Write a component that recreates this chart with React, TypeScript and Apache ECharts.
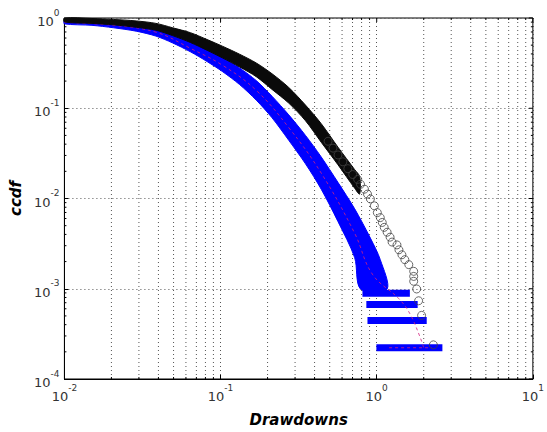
import React, { useEffect, useRef } from "react";
import * as echarts from "echarts";

// axis decades
const xMajor = [0.01, 0.1, 1, 10];
const yMajor = [0.0001, 0.001, 0.01, 0.1, 1];
const minorFactors = [2, 3, 4, 5, 6, 7, 8, 9];

// empirical ccdf (black circles): dense upper part is a solid band (outer / inner envelope)
const blackX = [0.01, 0.01501, 0.02065, 0.02884, 0.03855, 0.04932, 0.06406, 0.08196, 0.1034, 0.1323, 0.1693, 0.2136, 0.2733, 0.3498, 0.4411, 0.5646, 0.7225, 0.777];
const blackUpperY = [1.0, 0.9876, 0.9632, 0.9279, 0.8718, 0.7792, 0.6878, 0.5775, 0.4847, 0.3972, 0.3172, 0.241, 0.17, 0.1084, 0.06751, 0.03708, 0.02088, 0.01753];
const blackLowerY = [0.9051, 0.8718, 0.8396, 0.7889, 0.7319, 0.638, 0.5358, 0.4388, 0.3594, 0.2871, 0.2237, 0.1617, 0.114, 0.07275, 0.04201, 0.02366, 0.013, 0.01119];

// individual circles in the tail
const circleX = [0.488, 0.525, 0.565, 0.607, 0.653, 0.702, 0.755, 0.788, 0.835, 0.873, 0.911, 0.966, 1.009, 1.054, 1.085, 1.117, 1.166, 1.218, 1.254, 1.348, 1.388, 1.45, 1.514, 1.605, 1.725, 1.725, 1.725, 1.803, 1.855, 1.938, 2.306];
const circleY = [0.04306, 0.03615, 0.03037, 0.0255, 0.0214, 0.01843, 0.01627, 0.01436, 0.01268, 0.01119, 0.00988, 0.00829, 0.00697, 0.00614, 0.00543, 0.00479, 0.00423, 0.00373, 0.00329, 0.00306, 0.0027, 0.00238, 0.0021, 0.00185, 0.00156, 0.00137, 0.00121, 0.000994, 0.000736, 0.000507, 0.000239];

// surrogate band (blue x markers): outer and inner envelope
const bandUpperX = [0.01, 0.01501, 0.02065, 0.02884, 0.03855, 0.04932, 0.06406, 0.08196, 0.1034, 0.1323, 0.1693, 0.2136, 0.2733, 0.3498, 0.4411, 0.5646, 0.7225, 0.911, 1.054, 1.166];
const bandUpperY = [0.9279, 0.9095, 0.8827, 0.8232, 0.7449, 0.6542, 0.5425, 0.4498, 0.3684, 0.28, 0.2024, 0.1358, 0.08449, 0.05003, 0.02888, 0.0151, 0.00769, 0.00364, 0.0021, 0.000994];
const bandLowerX = [0.01, 0.01501, 0.02065, 0.02884, 0.03855, 0.04932, 0.06406, 0.08196, 0.1034, 0.1323, 0.1693, 0.2136, 0.2733, 0.3498, 0.4411, 0.5646, 0.7225, 0.788];
const bandLowerY = [0.861, 0.8293, 0.7792, 0.7141, 0.6301, 0.5292, 0.4227, 0.3293, 0.2533, 0.1832, 0.1229, 0.07838, 0.04416, 0.02425, 0.01268, 0.00556, 0.00221, 0.000994];

// blue plateaus at the last ccdf levels
const plateauY = [0.000889, 0.000667, 0.000444, 0.000222];
const plateauStart = [0.847, 0.897, 0.912, 1.04];
const plateauEnd = [1.56, 1.75, 2.0, 2.52];

// magenta dashed mean curve
const meanX = [0.01, 0.02065, 0.03855, 0.06406, 0.1034, 0.1693, 0.2733, 0.4411, 0.7225, 0.938, 1.388, 1.628, 1.883, 2.0];
const meanY = [0.8938, 0.8293, 0.6965, 0.4613, 0.298, 0.1577, 0.06107, 0.01913, 0.00412, 0.00145, 0.000774, 0.000532, 0.0003, 0.000222];
const meanFlatX = [1.2, 2.24];
const meanFlatY = [0.000222, 0.000222];

const FONT = "DejaVu Sans";

function expLabel(v: number) {
  const e = Math.round(Math.log10(v));
  return `{b|10}{s|${e}}`;
}

const richLabel = {
  b: { fontSize: 13, fontFamily: FONT, color: "#333", lineHeight: 20, verticalAlign: "bottom" },
  s: { fontSize: 9, fontFamily: FONT, color: "#333", lineHeight: 20, verticalAlign: "top", padding: [0, 0, 7, 0] },
};

export default function App() {
  const ref = useRef<HTMLDivElement>(null);
  useEffect(() => {
    if (!ref.current) return;
    const chart = echarts.init(ref.current, null, { renderer: "svg" });
    const xMin = xMajor[0];
    const xMax = xMajor[xMajor.length - 1];
    const yMin = yMajor[0];
    const yMax = yMajor[yMajor.length - 1];

    const minorX: number[] = [];
    xMajor.slice(0, -1).forEach((d) => minorFactors.forEach((f) => minorX.push(d * f)));
    const minorY: number[] = [];
    yMajor.slice(0, -1).forEach((d) => minorFactors.forEach((f) => minorY.push(d * f)));

    const gridDash = { stroke: "#555", lineDash: [1, 3], lineWidth: 1 };
    const dashed = { color: "#d4207f", width: 1, type: [3, 3], opacity: 0.8 };

    const bandSeries = (ux: number[], uy: number[], lx: number[], ly: number[], color: string, z: number) => ({
      type: "custom",
      silent: true,
      z,
      data: [[1, 1]],
      renderItem: (params: any, api: any) => {
        const pts: number[][] = [];
        ux.forEach((x, i) => pts.push(api.coord([x, uy[i]])));
        for (let i = lx.length - 1; i >= 0; i--) pts.push(api.coord([lx[i], ly[i]]));
        return {
          type: "polygon",
          shape: { points: pts, smooth: 0.3 },
          style: { fill: color, stroke: color, lineWidth: 1, lineJoin: "round" },
        };
      },
    });

    const option: any = {
      animation: false,
      backgroundColor: "#fff",
      grid: { left: 62, right: 9, top: 18, bottom: 45, show: true, borderColor: "#000", borderWidth: 1 },
      xAxis: {
        type: "log",
        logBase: 10,
        min: xMin,
        max: xMax,
        axisLine: { show: true, lineStyle: { color: "#000" } },
        axisTick: { show: true, inside: true, length: 4, lineStyle: { color: "#000" } },
        axisLabel: { formatter: expLabel, rich: richLabel, margin: 4 },
        splitLine: { show: true, lineStyle: { color: "#555", type: [1, 3], width: 1 } },
        name: "Drawdowns",
        nameLocation: "middle",
        nameGap: 33,
        nameTextStyle: { fontSize: 15, fontWeight: "bold", fontStyle: "italic", fontFamily: FONT, color: "#000" },
      },
      yAxis: {
        type: "log",
        logBase: 10,
        min: yMin,
        max: yMax,
        axisLine: { show: true, lineStyle: { color: "#000" } },
        axisTick: { show: true, inside: true, length: 4, lineStyle: { color: "#000" } },
        axisLabel: { formatter: expLabel, rich: richLabel, margin: 5 },
        splitLine: { show: true, lineStyle: { color: "#555", type: [1, 3], width: 1 } },
        name: "ccdf",
        nameLocation: "middle",
        nameGap: 26,
        nameTextStyle: { fontSize: 15, fontWeight: "bold", fontStyle: "italic", fontFamily: FONT, color: "#000" },
      },
      series: [
        {
          type: "custom",
          silent: true,
          z: 1,
          data: minorX.map((v) => [v, yMax]),
          renderItem: (params: any, api: any) => {
            const x = api.value(0);
            const a = api.coord([x, yMax]);
            const b = api.coord([x, yMin]);
            return {
              type: "group",
              children: [
                { type: "line", shape: { x1: a[0], y1: a[1], x2: b[0], y2: b[1] }, style: gridDash },
                { type: "line", shape: { x1: a[0], y1: a[1], x2: a[0], y2: a[1] + 2 }, style: { stroke: "#000", lineWidth: 1 } },
                { type: "line", shape: { x1: b[0], y1: b[1], x2: b[0], y2: b[1] - 2 }, style: { stroke: "#000", lineWidth: 1 } },
              ],
            };
          },
        },
        {
          type: "custom",
          silent: true,
          z: 1,
          data: minorY.map((v) => [xMin, v]),
          renderItem: (params: any, api: any) => {
            const y = api.value(1);
            const a = api.coord([xMin, y]);
            const b = api.coord([xMax, y]);
            return {
              type: "group",
              children: [
                { type: "line", shape: { x1: a[0], y1: a[1], x2: a[0] + 2, y2: a[1] }, style: { stroke: "#000", lineWidth: 1 } },
                { type: "line", shape: { x1: b[0], y1: b[1], x2: b[0] - 2, y2: b[1] }, style: { stroke: "#000", lineWidth: 1 } },
              ],
            };
          },
        },
        {
          type: "custom",
          silent: true,
          z: 1,
          data: yMajor.map((v) => [xMax, v]),
          renderItem: (params: any, api: any) => {
            const b = api.coord([xMax, api.value(1)]);
            return { type: "line", shape: { x1: b[0], y1: b[1], x2: b[0] - 4, y2: b[1] }, style: { stroke: "#000", lineWidth: 1 } };
          },
        },
        {
          type: "custom",
          silent: true,
          z: 1,
          data: xMajor.map((v) => [v, yMax]),
          renderItem: (params: any, api: any) => {
            const a = api.coord([api.value(0), yMax]);
            return { type: "line", shape: { x1: a[0], y1: a[1], x2: a[0], y2: a[1] + 4 }, style: { stroke: "#000", lineWidth: 1 } };
          },
        },
        bandSeries(bandUpperX, bandUpperY, bandLowerX, bandLowerY, "#0000ff", 3),
        {
          type: "custom",
          silent: true,
          z: 3,
          data: plateauY.map((y, i) => [plateauStart[i], y, plateauEnd[i]]),
          renderItem: (params: any, api: any) => {
            const p1 = api.coord([api.value(0), api.value(1)]);
            const p2 = api.coord([api.value(2), api.value(1)]);
            return {
              type: "rect",
              shape: { x: p1[0] - 3, y: p1[1] - 3.5, width: p2[0] - p1[0] + 6, height: 7 },
              style: { fill: "#0000ff" },
            };
          },
        },
        {
          type: "line",
          z: 4,
          silent: true,
          showSymbol: false,
          smooth: 0.4,
          data: meanX.map((x, i) => [x, meanY[i]]),
          lineStyle: dashed,
        },
        {
          type: "line",
          z: 4,
          silent: true,
          showSymbol: false,
          data: meanFlatX.map((x, i) => [x, meanFlatY[i]]),
          lineStyle: dashed,
        },
        bandSeries(blackX, blackUpperY, blackX, blackLowerY, "#0a0a0a", 5),
        {
          type: "scatter",
          z: 6,
          silent: true,
          symbol: "circle",
          symbolSize: 8,
          data: circleX.map((x, i) => [x, circleY[i]]),
          itemStyle: { color: "rgba(255,255,255,0)", borderColor: "#444", borderWidth: 1 },
        },
      ],
    };
    chart.setOption(option);
    return () => chart.dispose();
  }, []);
  return (
    <div
      ref={ref}
      style={{ position: "absolute", left: 0, top: 0, width: 547, height: 432, background: "#fff" }}
    />
  );
}
